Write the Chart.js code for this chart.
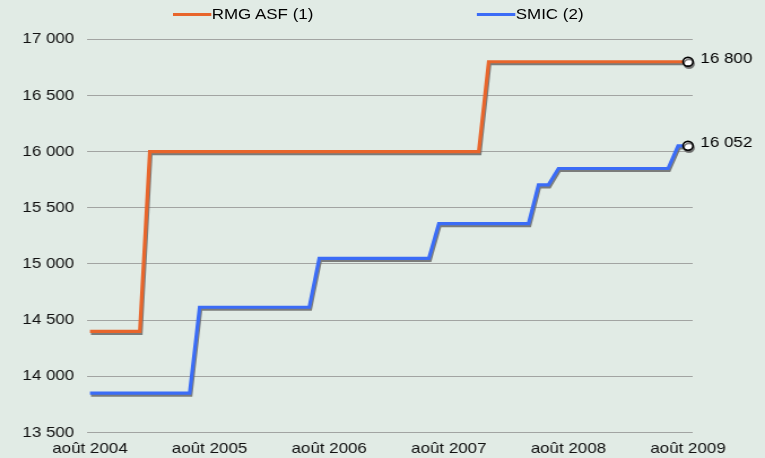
<!DOCTYPE html>
<html><head><meta charset="utf-8">
<script src="https://cdn.jsdelivr.net/npm/chart.js@4/dist/chart.umd.min.js"></script>
<style>
html,body{margin:0;padding:0;background:#e1ebe5;overflow:hidden;width:765px;height:458px}
#wrap{position:absolute;left:0;top:0;width:677px;height:458px;transform:scaleX(1.13);transform-origin:0 0}
#wrap canvas{position:absolute;left:0;top:0}
.lg{position:absolute;top:5px;font:15px "Liberation Sans",Arial,sans-serif;color:#000;white-space:nowrap;line-height:18px}
.sw{position:absolute;height:3px;top:12.5px}
</style></head><body>
<div id="wrap"><canvas id="c" width="677" height="458"></canvas></div>
<script>
// Series names and colours
const seriesNames = ['RMG ASF (1)', 'SMIC (2)'];
const seriesColors = ['#e8652b', '#3b6cf6'];
// X tick labels (one every 12 months, from août 2004)
const xTickLabels = ['août 2004', 'août 2005', 'août 2006', 'août 2007', 'août 2008', 'août 2009'];
// Monthly values, août 2004 .. août 2009 (61 months)
const rmgAsf = [
  14400,14400,14400,14400,14400,14400,
  16000,16000,16000,16000,16000,16000,16000,16000,16000,16000,
  16000,16000,16000,16000,16000,16000,16000,16000,16000,16000,
  16000,16000,16000,16000,16000,16000,16000,16000,16000,16000,
  16000,16000,16000,16000,
  16800,16800,16800,16800,16800,16800,16800,16800,16800,16800,
  16800,16800,16800,16800,16800,16800,16800,16800,16800,16800,16800
];
const smic = [
  13850,13850,13850,13850,13850,13850,13850,13850,13850,13850,13850,
  14615,14615,14615,14615,14615,14615,14615,14615,14615,14615,14615,14615,
  15050,15050,15050,15050,15050,15050,15050,15050,15050,15050,15050,15050,
  15360,15360,15360,15360,15360,15360,15360,15360,15360,15360,
  15705,15705,
  15850,15850,15850,15850,15850,15850,15850,15850,15850,15850,15850,15850,
  16052,16052
];
const yMin = 13500, yMax = 17000, yStep = 500;

const fmt = v => String(Math.round(v)).replace(/\B(?=(\d{3})+(?!\d))/g, ' ');
const FONT = '"Liberation Sans", Arial, sans-serif';

// HTML legend
const legendPos = [{line:153.4, text:187.3},{line:422.4, text:456.4}];
const wrap = document.getElementById('wrap');
seriesNames.forEach((n,i)=>{
  const sw = document.createElement('div'); sw.className='sw';
  sw.style.left = legendPos[i].line+'px'; sw.style.width = (legendPos[i].text-legendPos[i].line)+'px';
  sw.style.background = seriesColors[i]; wrap.appendChild(sw);
  const t = document.createElement('div'); t.className='lg';
  t.style.left = legendPos[i].text+'px'; t.textContent = n; wrap.appendChild(t);
});

const fx = {
  id: 'fx',
  beforeDatasetDraw(chart){ const c = chart.ctx; c.save();
    c.shadowColor='rgba(105,105,105,0.85)'; c.shadowOffsetX=0.9; c.shadowOffsetY=2; c.shadowBlur=0.5; },
  afterDatasetDraw(chart){ chart.ctx.restore(); },
  afterDatasetsDraw(chart){
    const c = chart.ctx; c.save();
    c.font = '15px ' + FONT; c.fillStyle = '#000'; c.textAlign='left'; c.textBaseline='middle';
    chart.data.datasets.forEach((ds,i)=>{
      const meta = chart.getDatasetMeta(i);
      const p = meta.data[meta.data.length-1];
      const v = ds.data[ds.data.length-1].y;
      c.fillText(fmt(v), p.x + 11, p.y - 3);
    });
    c.restore();
  }
};

const toXY = arr => arr.map((v,i)=>({x:i, y:v}));
const lastIdx = rmgAsf.length - 1;
const mkDs = (data, i) => ({
  label: seriesNames[i], data: toXY(data), clip: false,
  borderColor: seriesColors[i], backgroundColor: seriesColors[i],
  borderWidth: 3.2, tension: 0, fill: false,
  borderJoinStyle: 'miter', borderCapStyle: 'butt',
  pointRadius: ctx => ctx.dataIndex === lastIdx ? 4.4 : 0,
  pointBackgroundColor: '#ffffff', pointBorderColor: '#000000', pointBorderWidth: 1.6,
  pointHoverRadius: 0
});

new Chart(document.getElementById('c'), {
  type: 'line',
  data: { datasets: [mkDs(rmgAsf,0), mkDs(smic,1)] },
  options: {
    responsive: false, animation: false, events: [], devicePixelRatio: 1,
    layout: { padding: { top: 39.3, right: 64, bottom: 1, left: 0 } },
    plugins: { legend: { display: false }, tooltip: { enabled: false } },
    scales: {
      x: {
        type: 'linear', min: -0.33, max: 60.47,
        grid: { display: false, drawTicks: false }, border: { display: false },
        afterBuildTicks: s => { s.ticks = xTickLabels.map((_,k)=>({value:k*12})); },
        afterFit: s => { s.height = 24.5; },
        ticks: { autoSkip: false, maxRotation: 0, padding: 7, color: '#111',
          font: { family: FONT, size: 15 },
          callback: v => xTickLabels[Math.round(v/12)] }
      },
      y: {
        min: yMin, max: yMax,
        grid: { color: '#a2a4a2', lineWidth: 1, drawTicks: false }, border: { display: false },
        afterFit: s => { s.width = 76.7; },
        ticks: { stepSize: yStep, padding: 11, color: '#111',
          font: { family: FONT, size: 15 }, callback: v => fmt(v) }
      }
    }
  },
  plugins: [fx]
});
</script>
</body></html>
